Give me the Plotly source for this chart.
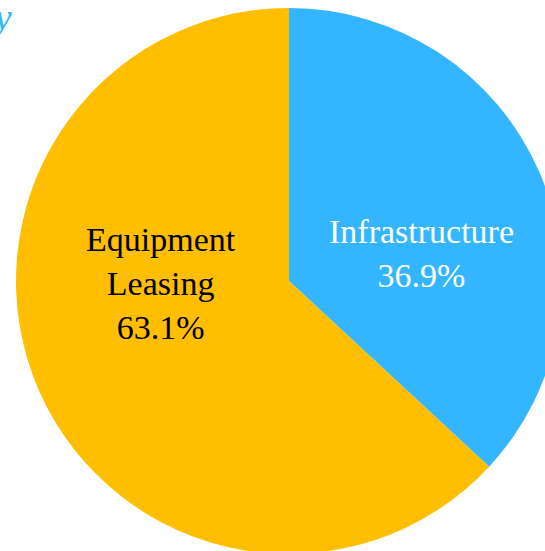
import plotly.graph_objects as go

labels = ["Infrastructure", "Equipment<br>Leasing"]
values = [36.9, 63.1]
colors = ["#33B5FF", "#FFBF00"]
text_colors = ["#FFFFFF", "#000000"]
title_text = "Investment Strategy"

# label anchor positions (paper coordinates) - styling only
label_pos = [(0.730, 0.551), (0.2785, 0.496)]

fig = go.Figure(go.Pie(
    labels=labels,
    values=values,
    sort=False,
    direction="clockwise",
    rotation=0,
    marker=dict(colors=colors, line=dict(width=0)),
    textinfo="none",
    showlegend=False,
    hoverinfo="label+percent",
))

total = sum(values)
for lab, val, col, (px, py) in zip(labels, values, text_colors, label_pos):
    fig.add_annotation(
        x=px, y=py, xref="paper", yref="paper",
        text=f"{lab}<br>{val / total * 100:.1f}%",
        showarrow=False,
        font=dict(family="Liberation Serif", size=34, color=col),
        align="center", xanchor="center", yanchor="middle",
    )

fig.update_layout(
    width=578,
    height=554,
    margin=dict(l=0, r=0, t=8, b=0),
    paper_bgcolor="white",
    title=dict(text=title_text, x=0.02, xref="container", xanchor="right",
               y=0.993, yref="container", yanchor="top",
               font=dict(family="Liberation Serif", size=38, color="#33B5FF", style="italic")),
)

fig.write_html(
    "out.html",
    config={"displayModeBar": False},
    post_script="document.body.style.margin='0';document.body.style.overflow='hidden';",
)
